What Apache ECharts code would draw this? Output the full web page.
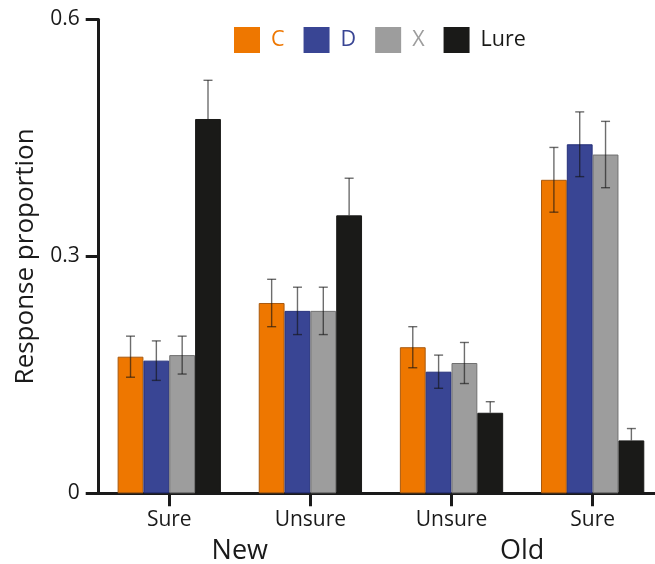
<!DOCTYPE html>
<html>
<head>
<meta charset="utf-8">
<script src="https://cdn.jsdelivr.net/npm/echarts@6/dist/echarts.min.js"></script>
<style>
html,body{margin:0;padding:0;background:#fff;}
#chart{width:655px;height:564px;}
</style>
</head>
<body>
<div id="chart"></div>
<script>
// ---- data ----
const categories = ['Sure', 'Unsure', 'Unsure', 'Sure'];
const groups = ['New', 'Old'];
const seriesNames = ['C', 'D', 'X', 'Lure'];
const C_means = [0.173, 0.241, 0.185, 0.397];
const C_err   = [0.026, 0.030, 0.026, 0.041];
const D_means = [0.168, 0.231, 0.154, 0.442];
const D_err   = [0.025, 0.030, 0.021, 0.041];
const X_means = [0.175, 0.231, 0.165, 0.429];
const X_err   = [0.024, 0.030, 0.026, 0.042];
const Lure_means = [0.474, 0.352, 0.102, 0.067];
const Lure_err   = [0.049, 0.047, 0.014, 0.015];
const yTicks = [0, 0.3, 0.6];

// ---- style ----
const FONT = '"Open Sans", "DejaVu Sans", sans-serif';
const colors = ['#EE7700', '#394594', '#9D9D9D', '#1A1A18'];
const borders = ['#A85A10', '#26307A', '#707070', '#1A1A18'];
const hideLower = [false, false, false, true];
const BAR_FRAC = 0.183;
const means = [C_means, D_means, X_means, Lure_means];
const errs = [C_err, D_err, X_err, Lure_err];

const chart = echarts.init(document.getElementById('chart'), null, {renderer: 'canvas'});

const series = [];
seriesNames.forEach((name, i) => {
  series.push({
    name: name,
    type: 'bar',
    xAxisIndex: 0,
    yAxisIndex: 0,
    barWidth: (BAR_FRAC * 100) + '%',
    barGap: '0%',
    data: means[i],
    itemStyle: {color: colors[i], borderColor: borders[i], borderWidth: 1},
    emphasis: {disabled: true},
    z: 2
  });
});
seriesNames.forEach((name, i) => {
  series.push({
    type: 'custom',
    xAxisIndex: 0,
    yAxisIndex: 0,
    z: 5,
    silent: true,
    data: means[i].map((m, k) => [k, m, errs[i][k]]),
    encode: {x: 0, y: 1},
    renderItem: function (params, api) {
      const x = api.value(0), m = api.value(1), e = api.value(2);
      const bandW = api.size([1, 0])[0];
      const bw = bandW * BAR_FRAC;
      const off = (i - 1.5) * bw;
      const top = api.coord([x, m + e]);
      const mid = api.coord([x, m]);
      const bot = api.coord([x, m - e]);
      const cx = top[0] + off;
      const cap = 4.5;
      const st = {stroke: 'rgba(20,20,20,0.62)', lineWidth: 1.4};
      const children = [
        {type: 'line', shape: {x1: cx - cap, y1: top[1], x2: cx + cap, y2: top[1]}, style: st}
      ];
      if (hideLower[i]) {
        children.push({type: 'line', shape: {x1: cx, y1: top[1], x2: cx, y2: mid[1]}, style: st});
      } else {
        children.push({type: 'line', shape: {x1: cx, y1: top[1], x2: cx, y2: bot[1]}, style: st});
        children.push({type: 'line', shape: {x1: cx - cap, y1: bot[1], x2: cx + cap, y2: bot[1]}, style: st});
      }
      return {type: 'group', children: children};
    }
  });
});

const option = {
  animation: false,
  backgroundColor: '#fff',
  textStyle: {fontFamily: FONT},
  legend: {
    left: 234,
    top: 27,
    padding: 0,
    itemWidth: 26,
    itemHeight: 26,
    itemGap: 19,
    icon: 'rect',
    selectedMode: false,
    data: seriesNames.map((n, i) => ({
      name: n,
      itemStyle: {color: colors[i], borderWidth: 0},
      textStyle: {color: colors[i], fontSize: 21.5, fontFamily: FONT, padding: [0, 0, 0, 6]}
    }))
  },
  grid: {left: 98.7, width: 564.5, top: 19.5, bottom: 70.7, containLabel: false, outerBoundsMode: 'none'},
  xAxis: [
    {
      type: 'category',
      data: categories,
      position: 'bottom',
      axisLine: {show: true, lineStyle: {color: '#1A1A1A', width: 3}},
      axisTick: {show: true, alignWithLabel: true, length: 13, lineStyle: {color: '#1A1A1A', width: 3}},
      axisLabel: {color: '#1A1A1A', fontSize: 21, fontFamily: FONT, margin: 16},
      splitLine: {show: false}
    },
    {
      type: 'category',
      data: groups,
      position: 'bottom',
      gridIndex: 0,
      axisLine: {show: false},
      axisTick: {show: false},
      axisLabel: {color: '#1A1A1A', fontSize: 27, fontFamily: FONT, margin: 45},
      splitLine: {show: false}
    }
  ],
  yAxis: {
    type: 'value',
    min: yTicks[0],
    max: yTicks[yTicks.length - 1],
    interval: yTicks[1] - yTicks[0],
    name: 'Response proportion',
    nameLocation: 'middle',
    nameGap: 60,
    nameTextStyle: {color: '#1A1A1A', fontSize: 26, fontFamily: FONT},
    axisLine: {show: true, lineStyle: {color: '#1A1A1A', width: 3}},
    axisTick: {show: true, length: 13, lineStyle: {color: '#1A1A1A', width: 3}},
    axisLabel: {color: '#1A1A1A', fontSize: 21, fontFamily: FONT, margin: 19,
      formatter: v => (v === 0 ? '0' : v.toFixed(1))},
    splitLine: {show: false}
  },
  series: series
};
chart.setOption(option);
</script>
</body>
</html>
